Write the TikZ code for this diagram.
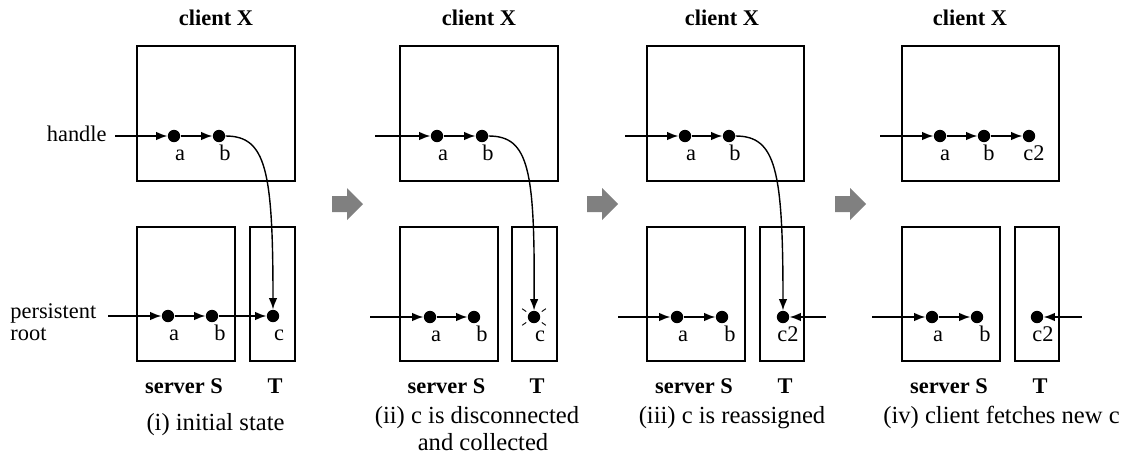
\documentclass[tikz,border=0pt]{standalone}
\usepackage{fontspec}
\setmainfont{Liberation Serif}
\usetikzlibrary{arrows.meta,calc}
\begin{document}
\begin{tikzpicture}[x=0.5pt,y=-0.5pt,
  box/.style={draw, line width=0.75pt},
  dot/.style={circle, fill, inner sep=0pt, minimum size=6.2pt},
  ptr/.style={line width=0.7pt, -{Latex[length=5.6pt,width=4.2pt]}},
  lbl/.style={font=\fontsize{11.2}{13}\selectfont, anchor=base, inner sep=0pt},
  ttl/.style={font=\fontsize{11.2}{13}\selectfont\bfseries, anchor=base, inner sep=0pt},
  captxt/.style={font=\fontsize{12.3}{14}\selectfont, anchor=base, inner sep=0pt},
  spark/.style={line width=0.45pt},
  bigarrow/.style={fill=black!50, draw=none}
]
\useasboundingbox (0,0) rectangle (1125,456);

% ---------------- Panel 1 ----------------
\draw[box] (137,46) rectangle (295,181);
\draw[box] (137,227) rectangle (235,361);
\draw[box] (250,227) rectangle (295,361);
\node[ttl] (t1x) at (216,25) {client X};
\node[ttl] (t1s) at (184,393) {server S};
\node[ttl] (t1t) at (275,393) {T};
\node[captxt] (c1) at (215.5,430) {(i) initial state};
\node[dot] (p1xa) at (174,136) {};
\node[dot] (p1xb) at (219,136) {};
\node[dot] (p1sa) at (168,316) {};
\node[dot] (p1sb) at (212,316) {};
\node[dot] (p1tc) at (273,316) {};
\node[lbl] (l1xa) at (180,160.5) {a};
\node[lbl] (l1xb) at (225,160.5) {b};
\node[lbl] (l1sa) at (174,340.5) {a};
\node[lbl] (l1sb) at (220,340.5) {b};
\node[lbl] (l1tc) at (279,340.5) {c};
\node[lbl, anchor=base east] (hdl) at (107,141) {handle};
\node[lbl, anchor=base west] (pr1) at (10,318) {persistent};
\node[lbl, anchor=base west] (pr2) at (10,340) {root};
\coordinate (p1hin) at (115,136);
\coordinate (p1sin) at (108,316);
\draw[ptr] (p1hin) -- (p1xa);
\draw[ptr] (p1xa) -- (p1xb);
\draw[ptr] (p1xb) .. controls (266,136) and (273,170) .. (p1tc);
\draw[ptr] (p1sin) -- (p1sa);
\draw[ptr] (p1sa) -- (p1sb);
\draw[ptr] (p1sb) -- (p1tc);

% gray arrow 1
\fill[bigarrow] (332,196) -- (347,196) -- (347,188) -- (363,204) -- (347,220) -- (347,212) -- (332,212) -- cycle;

% ---------------- Panel 2 ----------------
\draw[box] (400,46) rectangle (558,181);
\draw[box] (400,227) rectangle (498,361);
\draw[box] (512,227) rectangle (557,361);
\node[ttl] (t2x) at (479,25) {client X};
\node[ttl] (t2s) at (446.5,393) {server S};
\node[ttl] (t2t) at (537,393) {T};
\node[captxt] (c2a) at (477,423) {(ii) c is disconnected};
\node[captxt] (c2b) at (483,450) {and collected};
\node[dot] (p2xa) at (437,136) {};
\node[dot] (p2xb) at (482,136) {};
\node[dot] (p2sa) at (430,317) {};
\node[dot] (p2sb) at (474,317) {};
\node[dot] (p2tc) at (534,317) {};
\node[lbl] (l2xa) at (443,160.5) {a};
\node[lbl] (l2xb) at (488,160.5) {b};
\node[lbl] (l2sa) at (436,341.5) {a};
\node[lbl] (l2sb) at (482,341.5) {b};
\node[lbl] (l2tc) at (540,341.5) {c};
\coordinate (p2hin) at (375,136);
\coordinate (p2sin) at (370,317);
\draw[ptr] (p2hin) -- (p2xa);
\draw[ptr] (p2xa) -- (p2xb);
\draw[ptr] (p2xb) .. controls (529,136) and (535,170) .. (p2tc);
\draw[ptr] (p2sin) -- (p2sa);
\draw[ptr] (p2sa) -- (p2sb);
\foreach \ang in {35,145,215,325}
  \draw[spark] ($(p2tc)+(\ang:9.5)$) -- ($(p2tc)+(\ang:14.5)$);

% gray arrow 2
\fill[bigarrow] (587,196) -- (602,196) -- (602,188) -- (618,204) -- (602,220) -- (602,212) -- (587,212) -- cycle;

% ---------------- Panel 3 ----------------
\draw[box] (647,46) rectangle (804,181);
\draw[box] (647,227) rectangle (745,361);
\draw[box] (760,227) rectangle (804,361);
\node[ttl] (t3x) at (722,25) {client X};
\node[ttl] (t3s) at (694,393) {server S};
\node[ttl] (t3t) at (785,393) {T};
\node[captxt] (c3) at (732,423) {(iii) c is reassigned};
\node[dot] (p3xa) at (685,136) {};
\node[dot] (p3xb) at (729,136) {};
\node[dot] (p3sa) at (677,317) {};
\node[dot] (p3sb) at (722,317) {};
\node[dot] (p3tc) at (783,317) {};
\node[lbl] (l3xa) at (691,160.5) {a};
\node[lbl] (l3xb) at (735,160.5) {b};
\node[lbl] (l3sa) at (683,341.5) {a};
\node[lbl] (l3sb) at (730,341.5) {b};
\node[lbl] (l3tc) at (788,341.5) {c2};
\coordinate (p3hin) at (625,136);
\coordinate (p3sin) at (618,317);
\coordinate (p3rin) at (826,317);
\draw[ptr] (p3hin) -- (p3xa);
\draw[ptr] (p3xa) -- (p3xb);
\draw[ptr] (p3xb) .. controls (776,136) and (783,170) .. (p3tc);
\draw[ptr] (p3sin) -- (p3sa);
\draw[ptr] (p3sa) -- (p3sb);
\draw[ptr] (p3rin) -- (p3tc);

% gray arrow 3
\fill[bigarrow] (835,196) -- (850,196) -- (850,188) -- (866,204) -- (850,220) -- (850,212) -- (835,212) -- cycle;

% ---------------- Panel 4 ----------------
\draw[box] (902,46) rectangle (1059,181);
\draw[box] (902,227) rectangle (1000,361);
\draw[box] (1015,227) rectangle (1059,361);
\node[ttl] (t4x) at (970,25) {client X};
\node[ttl] (t4s) at (949,393) {server S};
\node[ttl] (t4t) at (1040,393) {T};
\node[captxt] (c4) at (1001.5,423) {(iv) client fetches new c};
\node[dot] (p4xa) at (940,136) {};
\node[dot] (p4xb) at (984,136) {};
\node[dot] (p4xc) at (1029,136) {};
\node[dot] (p4sa) at (932,317) {};
\node[dot] (p4sb) at (977,317) {};
\node[dot] (p4tc) at (1037,317) {};
\node[lbl] (l4xa) at (945,160.5) {a};
\node[lbl] (l4xb) at (989,160.5) {b};
\node[lbl] (l4xc) at (1034,160.5) {c2};
\node[lbl] (l4sa) at (938,341.5) {a};
\node[lbl] (l4sb) at (985,341.5) {b};
\node[lbl] (l4tc) at (1043,341.5) {c2};
\coordinate (p4hin) at (880,136);
\coordinate (p4sin) at (872,317);
\coordinate (p4rin) at (1082,317);
\draw[ptr] (p4hin) -- (p4xa);
\draw[ptr] (p4xa) -- (p4xb);
\draw[ptr] (p4xb) -- (p4xc);
\draw[ptr] (p4sin) -- (p4sa);
\draw[ptr] (p4sa) -- (p4sb);
\draw[ptr] (p4rin) -- (p4tc);
\end{tikzpicture}
\end{document}
